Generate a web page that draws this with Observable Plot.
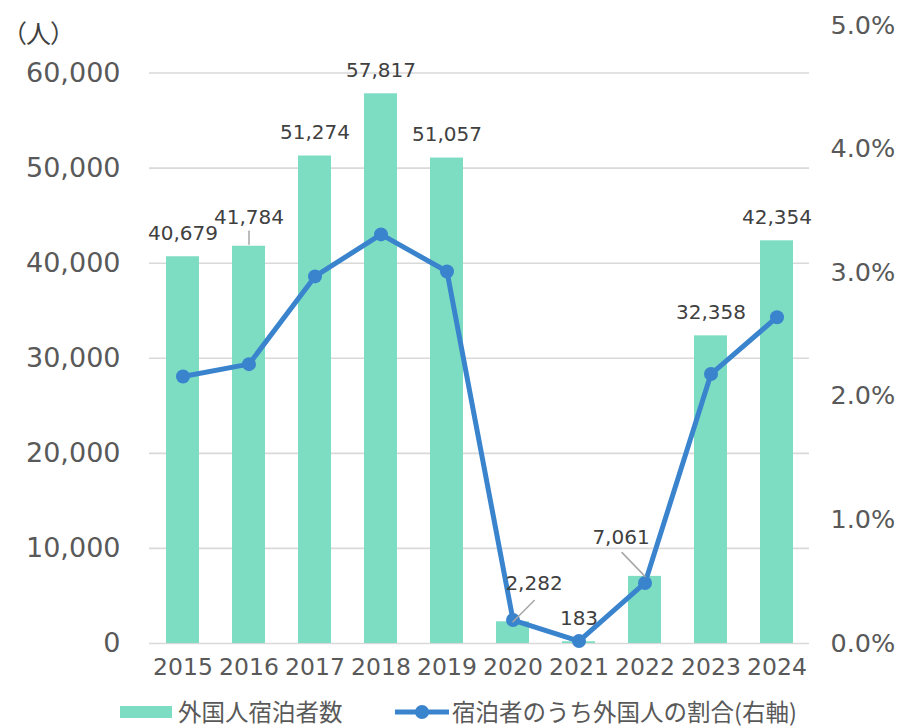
<!DOCTYPE html>
<html><head><meta charset="utf-8">
<script src="https://cdn.jsdelivr.net/npm/d3@7"></script>
<script src="https://cdn.jsdelivr.net/npm/@observablehq/plot@0.6"></script>
<style>
body{margin:0;background:#fff;}
#wrap{position:relative;width:898px;height:728px;}
#legend{position:absolute;left:0;top:697px;width:898px;height:30px;font-family:"Noto Sans CJK JP",sans-serif;color:#595959;}
.item{position:absolute;top:0;height:30px;display:flex;align-items:center;}
.item span{white-space:nowrap;line-height:1;}
svg text{font-feature-settings:"palt";}
</style></head><body>
<div id="wrap"><div id="chart"></div>
<div id="legend">
  <div class="item" style="left:120px"><svg width="52" height="14" style="margin-right:6px"><rect x="0" y="1" width="52" height="12" fill="#7DDDC3"/></svg><span style="font-size:23.5px">外国人宿泊者数</span></div>
  <div class="item" style="left:395px"><svg width="54" height="16" style="margin-right:3px"><line x1="0" y1="8" x2="54" y2="8" stroke="#3A84CE" stroke-width="5"/><circle cx="27" cy="8" r="7" fill="#3A84CE"/></svg><span style="font-size:23.5px">宿泊者のうち外国人の割合(右軸)</span></div>
</div></div>
<script>
const years = ["2015","2016","2017","2018","2019","2020","2021","2022","2023","2024"];
const guests = [40679, 41784, 51274, 57817, 51057, 2282, 183, 7061, 32358, 42354];
const sharePct = [2.16, 2.26, 2.97, 3.31, 3.01, 0.19, 0.02, 0.49, 2.18, 2.64];
const leftTicks = [0, 10000, 20000, 30000, 40000, 50000, 60000];
const rightTicks = [0, 1, 2, 3, 4, 5];
const leftMax = 65000, rightMax = 5;
const k = leftMax / rightMax;

const data = years.map((y, i) => ({year: y, guests: guests[i], share: sharePct[i]}));
const fmt = d3.format(",");

// label layout (pixel nudges), not data
const special = {
  "2016": {dx: 0, dy: -29, len: 13, rot: 0, ldx: 0, ldy: -2},
  "2020": {dx: 21, dy: -38, len: 30, rot: 45, ldx: 0, ldy: 0},
  "2022": {dx: -24, dy: -39, len: 33, rot: -44, ldx: 0, ldy: 0}
};
const line = {draw(ctx, l) { ctx.moveTo(0, 0); ctx.lineTo(0, -l); }};

const numFont = "DejaVu Sans, Noto Sans CJK JP, sans-serif";
const marks = [
  Plot.gridY(leftTicks, {stroke: "#d9d9d9", strokeOpacity: 1, strokeWidth: 1.6}),
  Plot.barY(data, {x: "year", y: "guests", fill: "#7DDDC3"}),
  Plot.axisY({ticks: leftTicks, tickFormat: fmt, tickSize: 0, tickPadding: 29, fontSize: 27, label: null, fill: "#595959"}),
  Plot.axisY({anchor: "right", ticks: rightTicks.map(v => v * k), tickFormat: d => (d / k).toFixed(1) + "%", tickSize: 0, tickPadding: 21, fontSize: 25.5, label: null, fill: "#595959"}),
  Plot.axisX({tickSize: 0, tickPadding: 15, fontSize: 23.5, label: null, fill: "#595959"}),
  Plot.line(data, {x: "year", y: d => d.share * k, stroke: "#3A84CE", strokeWidth: 5}),
  Plot.dot(data, {x: "year", y: d => d.share * k, r: 7, fill: "#3A84CE"}),
  Plot.text(data.filter(d => !special[d.year]), {x: "year", y: "guests", text: d => fmt(d.guests), dy: -23, fontSize: 20, fill: "#404040", fontFamily: numFont})
];
for (const [yr, s] of Object.entries(special)) {
  const sub = data.filter(d => d.year === yr);
  marks.push(Plot.vector(sub, {x: "year", y: "guests", length: s.len, rotate: s.rot, anchor: "start", shape: line, stroke: "#a6a6a6", strokeWidth: 1.5, dx: s.ldx, dy: s.ldy}));
  marks.push(Plot.text(sub, {x: "year", y: "guests", text: d => fmt(d.guests), dx: s.dx, dy: s.dy, fontSize: 20, fill: "#404040", fontFamily: numFont}));
}
marks.push(Plot.text(["（人）"], {frameAnchor: "top-left", textAnchor: "middle", dx: -111, dy: 0, fontSize: 25, fill: "#404040", fontFamily: "Noto Sans CJK JP, sans-serif"}));

const chart = Plot.plot({
  width: 898, height: 697,
  marginLeft: 149, marginRight: 89, marginTop: 25, marginBottom: 54,
  x: {domain: years, paddingInner: 0.5, paddingOuter: 0.25},
  y: {domain: [0, leftMax]},
  style: {fontFamily: numFont, color: "#595959", background: "#fff", overflow: "visible"},
  marks
});
document.getElementById("chart").appendChild(chart);
</script>
</body></html>
